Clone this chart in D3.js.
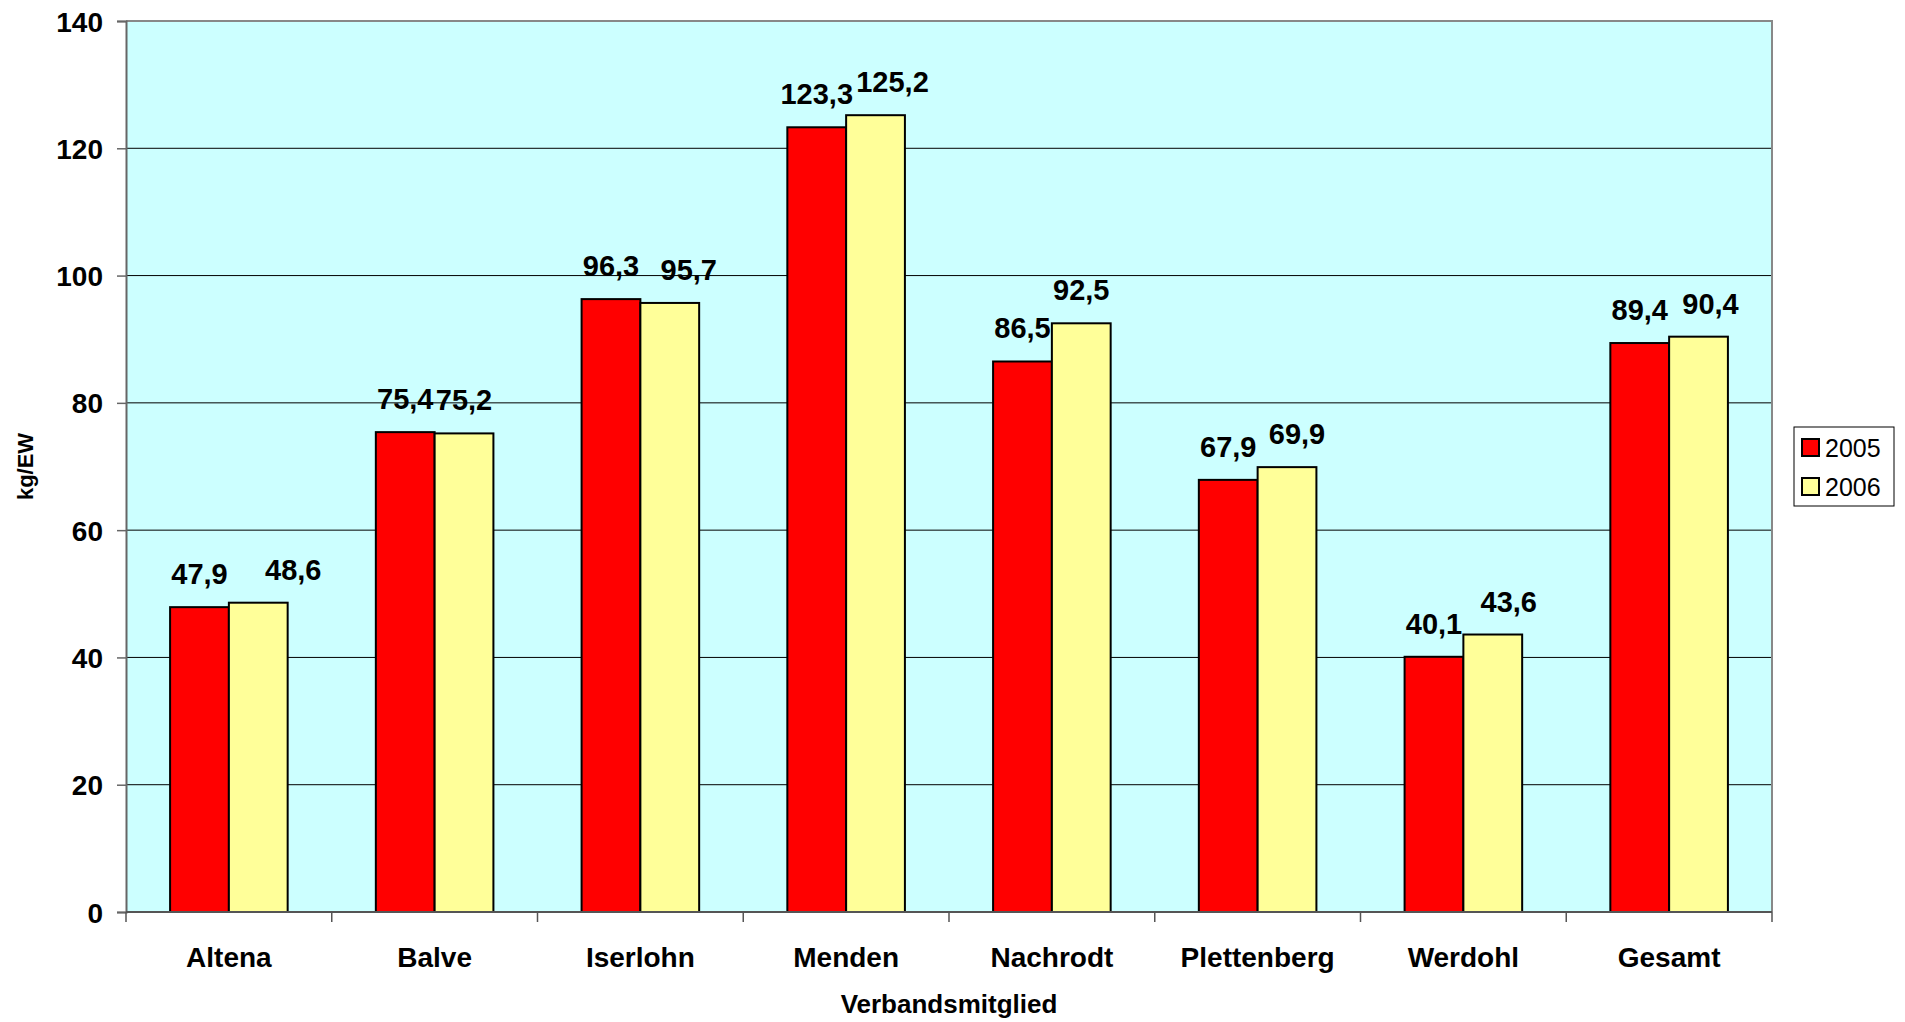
<!DOCTYPE html>
<html>
<head>
<meta charset="utf-8">
<style>
  html, body { margin: 0; padding: 0; background: #fff; }
  text { font-family: "Liberation Sans", Arial, sans-serif; fill: #000; }
  .axis-lbl { font-weight: bold; font-size: 28px; }
  .val { font-weight: bold; font-size: 29px; }
</style>
</head>
<body>
<div id="chart"></div>
<script src="https://cdn.jsdelivr.net/npm/d3@7"></script>
<script>

var categories = ["Altena", "Balve", "Iserlohn", "Menden", "Nachrodt", "Plettenberg", "Werdohl", "Gesamt"];
var seriesNames = ["2005", "2006"];
var values2005 = [47.9, 75.4, 96.3, 123.3, 86.5, 67.9, 40.1, 89.4];
var values2006 = [48.6, 75.2, 95.7, 125.2, 92.5, 69.9, 43.6, 90.4];
var yTicks = [0, 20, 40, 60, 80, 100, 120, 140];
var colors = ["#ff0000", "#ffff99"];

// the 2006 labels were nudged to the right by hand in the original (px)
var labelNudge2006 = [35, 0, 19, 17, 0, 10, 16, 12];

var W = 1905, H = 1022;
var plot = {left: 126, top: 21, right: 1772, bottom: 912};

var data = categories.map(function(c, i) {
  return {cat: c, idx: i, vals: [values2005[i], values2006[i]]};
});

var svg = d3.select("#chart").append("svg")
    .attr("width", W)
    .attr("height", H);

var x = d3.scaleBand()
    .domain(categories)
    .range([plot.left, plot.right])
    .paddingInner(0)
    .paddingOuter(0);

// gap width 150% -> bars take 2/3.5 of the category
var inner = d3.scaleBand()
    .domain(seriesNames)
    .range([0, x.bandwidth()])
    .paddingInner(0)
    .paddingOuter(0.75);

var y = d3.scaleLinear()
    .domain([0, 140])
    .range([plot.bottom, plot.top]);

// plot background
svg.append("rect")
    .attr("x", plot.left)
    .attr("y", plot.top)
    .attr("width", plot.right - plot.left)
    .attr("height", plot.bottom - plot.top)
    .attr("fill", "#ccffff");

// gridlines
svg.append("g")
  .selectAll("line")
  .data(yTicks.filter(function(d) { return d > 0 && d < 140; }))
  .enter().append("line")
    .attr("x1", plot.left)
    .attr("x2", plot.right)
    .attr("y1", function(d) { return y(d); })
    .attr("y2", function(d) { return y(d); })
    .attr("stroke", "#000")
    .attr("stroke-width", 1);

// plot border (top/right gray)
svg.append("path")
    .attr("d", "M" + plot.left + "," + plot.top + "H" + plot.right + "V" + plot.bottom)
    .attr("fill", "none")
    .attr("stroke", "#888")
    .attr("stroke-width", 2);

// bars
var group = svg.append("g").selectAll("g")
    .data(data)
  .enter().append("g")
    .attr("transform", function(d) { return "translate(" + x(d.cat) + ",0)"; });

group.selectAll("rect")
    .data(function(d) { return d.vals.map(function(v, i) { return {s: seriesNames[i], v: v, i: i}; }); })
  .enter().append("rect")
    .attr("x", function(d) { return inner(d.s); })
    .attr("y", function(d) { return y(d.v); })
    .attr("width", inner.bandwidth())
    .attr("height", function(d) { return y(0) - y(d.v); })
    .attr("fill", function(d) { return colors[d.i]; })
    .attr("stroke", "#000")
    .attr("stroke-width", 2);

group.selectAll("text")
    .data(function(d) {
      return d.vals.map(function(v, i) {
        return {s: seriesNames[i], v: v, nudge: i === 1 ? labelNudge2006[d.idx] : 0};
      });
    })
  .enter().append("text")
    .attr("class", "val")
    .attr("x", function(d) { return inner(d.s) + inner.bandwidth() / 2 + d.nudge; })
    .attr("y", function(d) { return y(d.v) - 23; })
    .attr("text-anchor", "middle")
    .text(function(d) { return d.v.toFixed(1).replace(".", ","); });

// y axis
var yAxis = svg.append("g")
    .attr("transform", "translate(" + plot.left + ",0)")
    .call(d3.axisLeft(y).tickValues(yTicks).tickSize(9).tickPadding(14));
yAxis.select(".domain").attr("stroke", "#666").attr("stroke-width", 2);
yAxis.selectAll(".tick line").attr("stroke", "#666").attr("stroke-width", 1.5);
yAxis.selectAll(".tick text")
    .attr("class", "axis-lbl")
    .attr("font-family", null).attr("font-size", null)
    .attr("dy", "0.36em");

// x axis
var xAxisG = svg.append("g")
    .attr("transform", "translate(0," + plot.bottom + ")");
xAxisG.append("line")
    .attr("x1", plot.left)
    .attr("x2", plot.right)
    .attr("stroke", "#555")
    .attr("stroke-width", 2);
var bounds = categories.map(function(c) { return x(c); }).concat([plot.right]);
xAxisG.selectAll(".tk")
    .data(bounds)
  .enter().append("line")
    .attr("x1", function(d) { return d; })
    .attr("x2", function(d) { return d; })
    .attr("y1", 0)
    .attr("y2", 10)
    .attr("stroke", "#555")
    .attr("stroke-width", 1.5);
xAxisG.selectAll(".cl")
    .data(categories)
  .enter().append("text")
    .attr("class", "axis-lbl")
    .attr("x", function(d) { return x(d) + x.bandwidth() / 2; })
    .attr("y", 55)
    .attr("text-anchor", "middle")
    .text(function(d) { return d; });

// axis titles
svg.append("text")
    .attr("x", (plot.left + plot.right) / 2)
    .attr("y", 1013)
    .attr("text-anchor", "middle")
    .attr("font-weight", "bold")
    .attr("font-size", "26px")
    .text("Verbandsmitglied");

svg.append("text")
    .attr("transform", "translate(33," + ((plot.top + plot.bottom) / 2) + ") rotate(-90)")
    .attr("text-anchor", "middle")
    .attr("font-weight", "bold")
    .attr("font-size", "22px")
    .text("kg/EW");

// legend
var legend = svg.append("g").attr("transform", "translate(1794,427)");
legend.append("rect")
    .attr("width", 100)
    .attr("height", 79)
    .attr("fill", "#fff")
    .attr("stroke", "#000")
    .attr("stroke-width", 1);
var li = legend.selectAll(".li")
    .data(seriesNames)
  .enter().append("g")
    .attr("transform", function(d, i) { return "translate(8," + (21 + i * 39) + ")"; });
li.append("rect")
    .attr("x", 0)
    .attr("y", -9)
    .attr("width", 17)
    .attr("height", 17)
    .attr("fill", function(d, i) { return colors[i]; })
    .attr("stroke", "#000")
    .attr("stroke-width", 2);
li.append("text")
    .attr("x", 23)
    .attr("y", 9)
    .attr("font-size", "25px")
    .text(function(d) { return d; });

</script>
</body>
</html>
